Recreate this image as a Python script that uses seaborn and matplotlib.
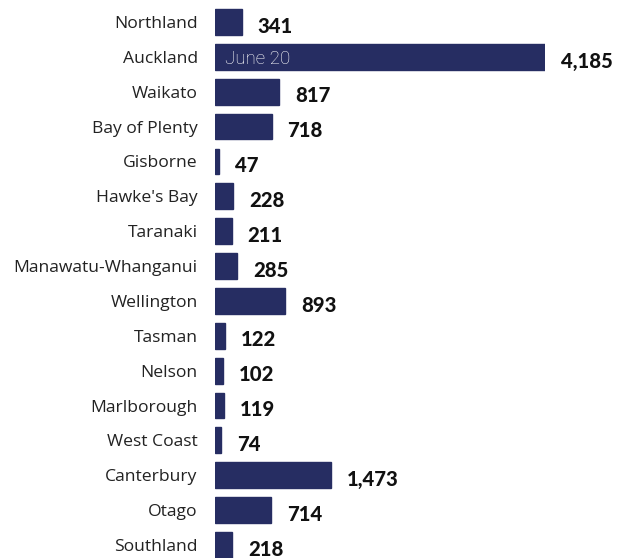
import matplotlib
matplotlib.use("Agg")
import matplotlib.pyplot as plt
import seaborn as sns
import pandas as pd

regions = ["Northland", "Auckland", "Waikato", "Bay of Plenty", "Gisborne", "Hawke's Bay",
           "Taranaki", "Manawatu-Whanganui", "Wellington", "Tasman", "Nelson", "Marlborough",
           "West Coast", "Canterbury", "Otago", "Southland"]
values = [341, 4185, 817, 718, 47, 228, 211, 285, 893, 122, 102, 119, 74, 1473, 714, 218]
inner_label = "June 20"

df = pd.DataFrame({"region": regions, "value": values})

sns.set_theme(style="white")
plt.rcParams['font.family'] = ['Lato', 'DejaVu Sans']

fig = plt.figure(figsize=(6.17, 5.58), dpi=100)
ax = fig.add_axes([215/617, 0, (545-215)/617, 1])

sns.barplot(data=df, y="region", x="value", orient="h", color="#262d62",
            saturation=1, width=0.74, ax=ax, edgecolor="#262d62")

ax.set_xlim(0, 4185)
ax.set_ylim(15 + (558-545)/34.87, -22/34.87)
ax.set_xlabel("")
ax.set_ylabel("")
ax.set_xticks([])
for s in ax.spines.values():
    s.set_visible(False)
ax.tick_params(axis="y", length=0, pad=12.5, labelsize=12.6, labelcolor="#222222")
for lbl in ax.get_yticklabels():
    lbl.set_fontfamily(['Open Sans', 'DejaVu Sans'])

for i, v in enumerate(values):
    ax.annotate(f"{v:,}", xy=(v, i), xytext=(11.5, -3), textcoords="offset points",
                ha="left", va="center", fontsize=14.6, fontweight="black",
                color="#111111", annotation_clip=False)

ax.annotate(inner_label, xy=(0, 1), xytext=(7, 0), textcoords="offset points",
            ha="left", va="center_baseline", fontsize=13.5, color="white", fontweight="light",
            fontfamily=['Roboto', 'DejaVu Sans'])

fig.savefig("out.png", dpi=100)
